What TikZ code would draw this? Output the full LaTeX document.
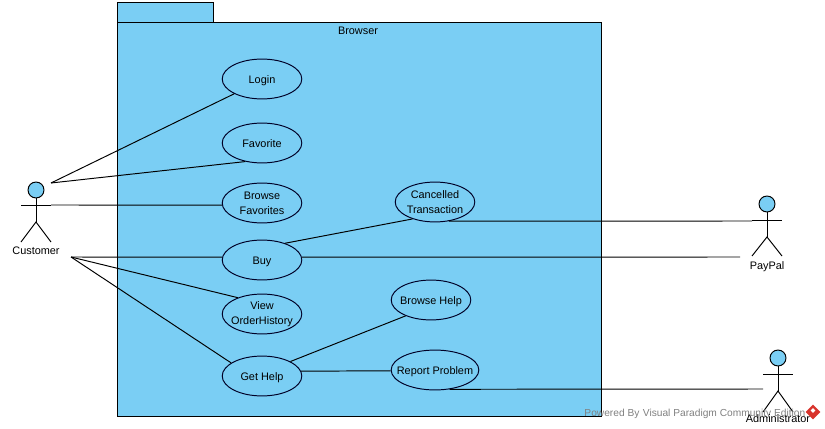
\documentclass[tikz,border=0pt]{standalone}
\usepackage{fontspec}
\setmainfont{Liberation Sans}
\usetikzlibrary{shapes.geometric}
\definecolor{pkgblue}{HTML}{7ACEF4}
\definecolor{logored}{HTML}{D8342C}
\newcommand{\fitin}[1]{\makebox[0pt]{#1}}
\tikzset{
	usecase/.style={draw=black!85!blue, ellipse, minimum width=45.3pt, minimum height=22.7pt, inner sep=0pt, align=center, font=\fontsize{6.2}{8.5}\selectfont},
	oneline/.style={text height=5.6pt, text depth=0pt},
	label/.style={font=\fontsize{6.2}{8.5}\selectfont, inner sep=0pt, text height=5.6pt, text depth=0pt},
	head/.style={draw, circle, fill=pkgblue, minimum size=9.1pt, inner sep=0pt},
	link/.style={line width=0.55pt}
}
\begin{document}
\begin{tikzpicture}[x=0.02cm,y=-0.02cm,line width=0.55pt]
	\useasboundingbox (0,0) rectangle (825,429);

	% package
	\draw[fill=pkgblue] (117,2) rectangle (213,22);
	\draw[fill=pkgblue] (117,22) rectangle (601,416);
	\node[label] (browser) at (358,30) {Browser};

	% use cases
	\node[usecase, oneline] (login) at (262,79) {Login};
	\node[usecase, oneline] (favorite) at (262,143) {Favorite};
	\node[usecase] (browsefav) at (262,203) {Browse\\Favorites};
	\node[usecase, oneline] (buy) at (262,260) {Buy};
	\node[usecase] (history) at (262,314) {View\\\fitin{OrderHistory}};
	\node[usecase, oneline] (gethelp) at (262,376) {Get Help};
	\node[usecase] (cancelled) at (435,202) {Cancelled\\\fitin{Transaction}};
	\node[usecase, oneline] (browsehelp) at (431,300) {\fitin{Browse Help}};
	\node[usecase, oneline, minimum width=49.9pt] (report) at (435,370) {\fitin{Report Problem}};

	% customer
	\node[head] (custhead) at (36,190) {};
	\coordinate (custhip) at (36,222);
	\coordinate (custarmL) at (21,205);
	\coordinate (custarmR) at (51,205);
	\coordinate (custlegL) at (21,242);
	\coordinate (custlegR) at (51,242);
	\coordinate (custtop) at (51,183);
	\coordinate (custlow) at (71,257);
	\draw (custhead) -- (custhip);
	\draw (custarmL) -- (custarmR);
	\draw (custlegL) -- (custhip) -- (custlegR);
	\node[label] (customer) at (36,250) {Customer};

	% paypal
	\node[head] (payhead) at (767,204) {};
	\coordinate (payhip) at (767,237);
	\coordinate (payarmL) at (752,220);
	\coordinate (payarmR) at (782,220);
	\coordinate (paylegL) at (752,256);
	\coordinate (paylegR) at (782,256);
	\coordinate (paytop) at (752,221);
	\coordinate (paylow) at (740,257);
	\draw (payhead) -- (payhip);
	\draw (payarmL) -- (payarmR);
	\draw (paylegL) -- (payhip) -- (paylegR);
	\node[label] (paypal) at (767,264.5) {PayPal};

	% administrator
	\node[head] (adminhead) at (778,358) {};
	\coordinate (adminhip) at (778,391);
	\coordinate (adminarmL) at (763,374);
	\coordinate (adminarmR) at (793,374);
	\coordinate (adminlegL) at (763,412);
	\coordinate (adminlegR) at (793,412);
	\coordinate (adminlink) at (763,389);
	\draw (adminhead) -- (adminhip);
	\draw (adminarmL) -- (adminarmR);
	\draw (adminlegL) -- (adminhip) -- (adminlegR);

	% connectors
	\draw[link] (custtop) -- (login.208);
	\draw[link] (custtop) -- (favorite.228);
	\draw[link] (custarmR) -- (browsefav.183);
	\draw[link] (custlow) -- (buy.176);
	\draw[link] (custlow) -- (history.146);
	\draw[link] (custlow) -- (gethelp.157);
	\draw[link] (buy.36) -- (cancelled.217);
	\draw[link] (buy.4) -- (paylow);
	\draw[link] (cancelled.306) -- (paytop);
	\draw[link] (gethelp.27) -- (browsehelp.212);
	\draw[link] (gethelp.7) -- (report.181);
	\draw[link] (report.307) -- (adminlink);

	% watermark
	\node[label, font=\fontsize{5.8}{8}\selectfont, text=black!50, anchor=west] (powered) at (584,412) {Powered By\hspace{2pt}Visual Paradigm Community Edition};
	\node[diamond, fill=logored, minimum width=8.5pt, minimum height=8.5pt, inner sep=0pt] (logo) at (813,412) {};
	\node[diamond, fill=white, minimum width=3pt, minimum height=3pt, inner sep=0pt] (logomark) at (813,410.5) {};

	\node[label] (admin) at (778,418) {Administrator};
\end{tikzpicture}
\end{document}
